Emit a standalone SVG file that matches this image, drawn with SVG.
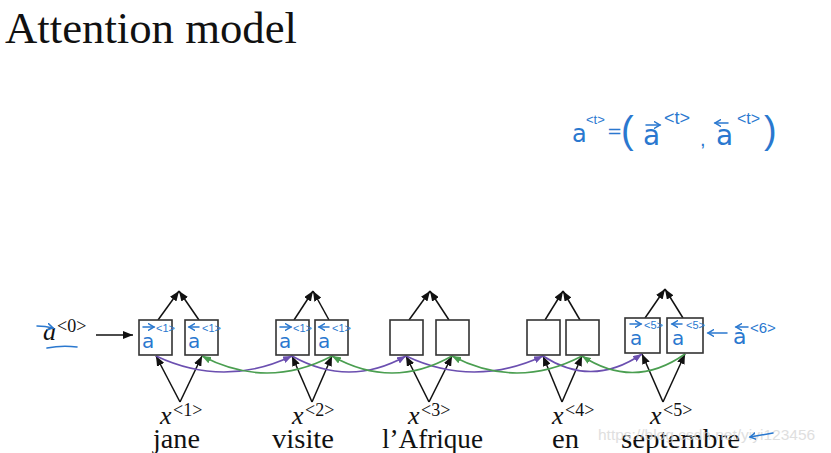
<svg xmlns="http://www.w3.org/2000/svg" width="831" height="453" viewBox="0 0 831 453">
<style>
  .title{font-family:"Liberation Serif","Times New Roman",serif;font-size:44px;fill:#111}
  .word{font-family:"Liberation Serif","Times New Roman",serif;font-size:27px;fill:#111}
  .xl{font-family:"Liberation Serif","Times New Roman",serif;font-size:18px;fill:#111}
  .it{font-style:italic;font-size:26px}
  .box{fill:#fff;stroke:#333;stroke-width:1.6}
  .blk{stroke:#111;stroke-width:1.5;fill:none;marker-end:url(#hb)}
  .pur{stroke:#6b4fb0;stroke-width:1.6;fill:none;marker-end:url(#hp)}
  .grn{stroke:#4a9e50;stroke-width:1.6;fill:none;marker-end:url(#hg)}
  .bl{font-family:"DejaVu Sans","Noto Sans",sans-serif;fill:#2a78cf}
  .sa{font-family:"Liberation Sans",Arial,sans-serif}
  .ba{font-size:20px}
  .bs{font-size:11px}
  .bstroke{stroke:#2a78cf;stroke-width:1.6;fill:none;stroke-linecap:round}
  .barr{stroke:#2a78cf;stroke-width:1.5;fill:none;stroke-linecap:round;marker-end:url(#hbl)}
  .wm{font-family:"Liberation Sans",Arial,sans-serif;font-size:15.5px;fill:#d8d8d8;opacity:0.8}
</style>
<defs>
  <marker id="hb" markerUnits="userSpaceOnUse" markerWidth="10" markerHeight="8" refX="10" refY="4" orient="auto">
    <path d="M0,0 L10,4 L0,8 Z" fill="#111"/>
  </marker>
  <marker id="hp" markerUnits="userSpaceOnUse" markerWidth="9" markerHeight="7" refX="9" refY="3.5" orient="auto">
    <path d="M0,0 L9,3.5 L0,7 Z" fill="#6b4fb0"/>
  </marker>
  <marker id="hg" markerUnits="userSpaceOnUse" markerWidth="9" markerHeight="7" refX="9" refY="3.5" orient="auto">
    <path d="M0,0 L9,3.5 L0,7 Z" fill="#4a9e50"/>
  </marker>
  <marker id="hbl" markerUnits="userSpaceOnUse" markerWidth="8" markerHeight="8" refX="6" refY="4" orient="auto">
    <path d="M0,0.5 L6,4 L0,7.5" fill="none" stroke="#2a78cf" stroke-width="1.5" stroke-linecap="round"/>
  </marker>
</defs>

<text class="title" x="5" y="43" textLength="292" lengthAdjust="spacingAndGlyphs">Attention model</text>

<!-- equation top right -->
<g id="equation">
  <text class="bl"><tspan x="572" y="142" font-size="24">a</tspan><tspan class="sa" x="586" y="124" font-size="13">&lt;t&gt;</tspan><tspan x="607" y="137" font-size="18">=</tspan><tspan class="sa" x="621" y="143" font-size="38">(</tspan><tspan x="643" y="145" font-size="28">a</tspan><tspan class="sa" x="664" y="124" font-size="18">&lt;t&gt;</tspan><tspan class="sa" x="700" y="146" font-size="20">,</tspan><tspan x="716" y="145" font-size="28">a</tspan><tspan class="sa" x="737" y="124" font-size="16">&lt;t&gt;</tspan><tspan class="sa" x="764" y="143" font-size="38">)</tspan></text>
  <path class="barr" d="M646,125 L660,125"/>
  <path class="barr" d="M728,123 L715,123"/>
</g>

<!-- a<0> -->
<g id="a0">
  <text class="xl"><tspan class="it" x="43" y="340">a</tspan><tspan x="57" y="332">&lt;0&gt;</tspan></text>
  <path class="barr" d="M37,326 Q45,326 53,328"/>
  <path class="bstroke" d="M47,348 Q62,345 77,347"/>
</g>

<!-- connectors -->
<g id="connectors">
  <path class="blk" d="M96,335 L133,335"/>
  <!-- top outputs -->
  <path class="blk" d="M158,320 L179,291"/><path class="blk" d="M199,320 L179,291"/>
  <path class="blk" d="M294,320 L313,291"/><path class="blk" d="M329,320 L313,291"/>
  <path class="blk" d="M409,320 L430,291"/><path class="blk" d="M449,320 L430,291"/>
  <path class="blk" d="M545,320 L563,291"/><path class="blk" d="M580,320 L563,291"/>
  <path class="blk" d="M645,318 L665,289"/><path class="blk" d="M683,318 L665,289"/>
  <!-- inputs -->
  <path class="blk" d="M180,402 L156,356"/><path class="blk" d="M180,402 L202,356"/>
  <path class="blk" d="M312,402 L292,356"/><path class="blk" d="M312,402 L332,356"/>
  <path class="blk" d="M429,402 L406,356"/><path class="blk" d="M429,402 L452,356"/>
  <path class="blk" d="M562,402 L543,356"/><path class="blk" d="M562,402 L582,356"/>
  <path class="blk" d="M663,402 L642,354"/><path class="blk" d="M663,402 L685,354"/>
  <!-- forward (purple) -->
  <path class="pur" d="M156,356 Q224,388 292,356"/>
  <path class="pur" d="M292,356 Q349,388 406,356"/>
  <path class="pur" d="M406,356 Q474,388 543,356"/>
  <path class="pur" d="M543,356 Q592,388 642,354"/>
  <!-- backward (green) -->
  <path class="grn" d="M685,354 Q634,390 582,356"/>
  <path class="grn" d="M582,356 Q517,390 452,356"/>
  <path class="grn" d="M452,356 Q392,390 332,356"/>
  <path class="grn" d="M332,356 Q267,390 202,356"/>
</g>

<!-- nodes -->
<g id="f1"><rect class="box" x="139" y="320" width="33" height="35"/>
  <path class="barr" d="M143,327 L154,327"/><text class="bl"><tspan class="ba" x="142" y="348">a</tspan><tspan class="sa bs" x="156" y="332">&lt;1&gt;</tspan></text></g>
<g id="b1"><rect class="box" x="185" y="320" width="33" height="35"/>
  <path class="barr" d="M199,327 L189,327"/><text class="bl"><tspan class="ba" x="188" y="348">a</tspan><tspan class="sa bs" x="202" y="332">&lt;1&gt;</tspan></text></g>
<g id="f2"><rect class="box" x="276" y="320" width="33" height="35"/>
  <path class="barr" d="M280,327 L291,327"/><text class="bl"><tspan class="ba" x="279" y="348">a</tspan><tspan class="sa bs" x="293" y="332">&lt;1&gt;</tspan></text></g>
<g id="b2"><rect class="box" x="315" y="320" width="33" height="35"/>
  <path class="barr" d="M329,327 L319,327"/><text class="bl"><tspan class="ba" x="318" y="348">a</tspan><tspan class="sa bs" x="332" y="332">&lt;1&gt;</tspan></text></g>
<g id="f3"><rect class="box" x="390" y="320" width="33" height="35"/></g>
<g id="b3"><rect class="box" x="436" y="320" width="33" height="35"/></g>
<g id="f4"><rect class="box" x="527" y="320" width="33" height="35"/></g>
<g id="b4"><rect class="box" x="566" y="320" width="33" height="35"/></g>
<g id="f5"><rect class="box" x="625" y="318" width="35" height="35"/>
  <path class="barr" d="M630,324 L641,324"/><text class="bl"><tspan class="ba" x="630" y="345">a</tspan><tspan class="sa bs" x="644" y="329">&lt;5&gt;</tspan></text></g>
<g id="b5"><rect class="box" x="667" y="318" width="36" height="35"/>
  <path class="barr" d="M682,324 L672,324"/><text class="bl"><tspan class="ba" x="672" y="345">a</tspan><tspan class="sa bs" x="686" y="329">&lt;5&gt;</tspan></text></g>

<g id="a6">
  <path class="barr" d="M727,333 L708,333"/>
  <path class="barr" d="M748,327 L736,327"/>
  <text class="bl"><tspan x="733" y="344" font-size="22">a</tspan><tspan class="sa" x="750" y="333" font-size="15">&lt;6&gt;</tspan></text>
</g>

<!-- inputs labels -->
<g id="x1"><text class="xl"><tspan class="it" x="160" y="424">x</tspan><tspan x="173" y="416">&lt;1&gt;</tspan></text><text class="word" x="153" y="448" textLength="47" lengthAdjust="spacingAndGlyphs">jane</text></g>
<g id="x2"><text class="xl"><tspan class="it" x="292" y="424">x</tspan><tspan x="305" y="416">&lt;2&gt;</tspan></text><text class="word" x="272" y="448" textLength="62" lengthAdjust="spacingAndGlyphs">visite</text></g>
<g id="x3"><text class="xl"><tspan class="it" x="408" y="424">x</tspan><tspan x="421" y="416">&lt;3&gt;</tspan></text><text class="word" x="382" y="448" textLength="101" lengthAdjust="spacingAndGlyphs">l’Afrique</text></g>
<g id="x4"><text class="xl"><tspan class="it" x="552" y="424">x</tspan><tspan x="565" y="416">&lt;4&gt;</tspan></text><text class="word" x="552" y="448" textLength="27" lengthAdjust="spacingAndGlyphs">en</text></g>
<g id="x5"><text class="xl"><tspan class="it" x="650" y="424">x</tspan><tspan x="663" y="416">&lt;5&gt;</tspan></text><text class="word" x="621" y="448" textLength="119" lengthAdjust="spacingAndGlyphs">septembre</text></g>

<text class="wm" x="598" y="440">https://blog.csdn.net/yiyi123456</text>
<path class="barr" d="M773,433 Q762,435 750,437"/>
</svg>
